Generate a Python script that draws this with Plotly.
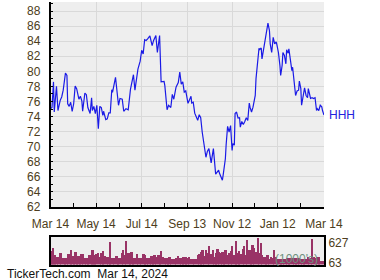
import pandas as pd
import plotly.graph_objects as go

# ---- data ----
start_date = "2023-03-14"
price_days = [0, 2, 4, 5, 8, 10, 13, 15, 17, 20, 22, 23, 25, 27, 29, 31, 33, 35, 38, 40,
              42, 43, 46, 48, 50, 53, 55, 56, 58, 60, 62, 64, 66, 68, 70, 71, 74, 76, 78, 80,
              82, 83, 87, 91, 93, 96, 98, 101, 104, 107, 111, 113, 117, 120, 122, 124, 126, 128, 130, 133,
              136, 138, 141, 143, 146, 148, 152, 153, 156, 158, 161, 163, 165, 168, 171, 173, 175, 177, 179, 181,
              184, 186, 188, 189, 191, 193, 195, 197, 199, 201, 203, 205, 206, 208, 210, 212, 215, 217, 218, 221,
              223, 225, 226, 228, 230, 231, 234, 235, 237, 239, 241, 243, 244, 246, 247, 249, 251, 253, 254, 256,
              258, 260, 262, 264, 266, 267, 269, 271, 274, 275, 277, 279, 280, 282, 283, 285, 287, 289, 291, 293,
              294, 296, 298, 300, 302, 303, 305, 307, 308, 310, 311, 313, 315, 316, 318, 319, 321, 323, 324, 326,
              328, 330, 332, 333, 335, 336, 338, 340, 342, 344, 345, 347, 348, 350, 352, 354, 356, 357, 359, 361,
              363, 364, 366]
price = [75.05, 75.2, 78.6, 74.6, 78.0, 74.8, 76.15, 76.6, 77.5, 79.76, 79.45, 75.7, 75.35, 75.9, 74.7, 75.7, 78.04, 77.7, 76.3, 76.7,
         76.05, 74.7, 77.1, 76.9, 75.2, 74.4, 76.5, 74.8, 75.35, 74.4, 75.5, 72.4, 75.35, 75.2, 74.15, 74.7, 73.6, 73.7, 74.5, 74.5,
         77.56, 77.2, 79.2, 75.5, 76.4, 76.3, 74.7, 75.05, 74.9, 77.6, 79.55, 77.5, 80.3, 81.35, 82.8, 82.3, 84.2, 84.1, 84.3, 84.7,
         83.4, 84.1, 84.75, 82.5, 84.75, 78.6, 78.65, 78.1, 74.9, 75.5, 75.2, 76.95, 76.3, 77.9, 78.5, 79.9, 78.3, 78.6, 77.25, 77.4,
         75.75, 76.3, 76.7, 75.8, 75.9, 74.45, 73.85, 73.5, 74.25, 73.85, 71.95, 70.4, 70.3, 68.6, 69.4, 69.75, 67.85, 69.3, 69.75, 66.35,
         66.6, 66.9, 66.5, 66.1, 65.55, 66.2, 68.4, 70.2, 72.7, 71.95, 72.8, 69.5, 70.4, 70.2, 74.4, 74.6, 73.8, 73.85, 72.6, 73.35,
         72.95, 73.35, 73.85, 73.5, 75.8, 75.25, 74.6, 75.25, 76.8, 79.0, 81.5, 83.07, 82.9, 83.1, 81.65, 82.86, 83.65, 84.98, 86.4, 85.4,
         83.65, 82.5, 84.5, 83.65, 83.9, 83.5, 82.5, 80.8, 79.45, 80.8, 82.5, 82.1, 81.0, 82.86, 82.4, 83.0, 81.45, 80.1, 80.55, 78.8,
         76.8, 77.4, 77.5, 78.7, 77.7, 75.5, 76.7, 77.8, 76.8, 76.5, 77.7, 77.0, 76.4, 76.5, 76.4, 76.5, 74.8, 75.05, 74.8, 75.5,
         75.3, 74.8, 74.2]

volume_days = [0, 2, 3, 5, 6, 8, 10, 12, 14, 17, 19, 21, 23, 26, 27, 29, 31, 33, 35, 37,
               39, 41, 43, 46, 48, 50, 52, 55, 56, 58, 59, 61, 63, 66, 68, 70, 72, 75, 77, 79,
               80, 83, 85, 88, 90, 92, 95, 97, 99, 101, 104, 106, 108, 110, 112, 115, 117, 119, 121, 124,
               126, 128, 130, 133, 135, 137, 139, 141, 144, 146, 148, 150, 153, 155, 157, 159, 161, 164, 166, 168,
               170, 173, 175, 177, 179, 181, 183, 185, 188, 190, 192, 194, 197, 199, 201, 203, 205, 208, 210, 212,
               214, 217, 219, 221, 223, 225, 228, 230, 232, 234, 237, 239, 241, 243, 246, 248, 250, 252, 254, 257,
               259, 261, 263, 266, 268, 270, 272, 275, 277, 279, 281, 283, 286, 288, 290, 292, 295, 297, 299, 301,
               303, 306, 308, 310, 312, 315, 317, 319, 321, 324, 326, 328, 330, 332, 335, 337, 339, 341, 344, 346,
               348, 350, 352, 355, 357, 359, 361, 364]
volume = [424, 424, 493, 296, 247, 247, 247, 345, 345, 217, 217, 217, 326, 326, 444, 266, 266, 375, 266, 266,
          266, 326, 326, 197, 197, 197, 296, 296, 444, 296, 266, 326, 365, 247, 345, 414, 266, 247, 247, 661,
          197, 197, 197, 276, 197, 197, 345, 444, 296, 691, 345, 296, 395, 197, 197, 326, 197, 197, 197, 326,
          296, 197, 197, 197, 266, 168, 286, 227, 296, 247, 424, 247, 197, 197, 197, 227, 168, 168, 168, 217,
          266, 197, 197, 227, 227, 227, 197, 247, 168, 168, 168, 168, 296, 326, 395, 444, 266, 444, 345, 543,
          326, 444, 247, 345, 464, 395, 345, 395, 326, 444, 296, 365, 424, 543, 296, 691, 345, 424, 326, 464,
          543, 296, 740, 444, 326, 592, 493, 395, 790, 345, 641, 296, 247, 197, 296, 168, 247, 197, 444, 247,
          168, 168, 168, 168, 168, 168, 197, 197, 197, 197, 197, 197, 197, 197, 168, 168, 168, 168, 247, 168,
          197, 760, 247, 197, 247, 247, 128, 128]

tick_dates = ["2023-03-14", "2023-05-14", "2023-07-14", "2023-09-13", "2023-11-12", "2024-01-12", "2024-03-14"]
tick_labels = ["Mar 14", "May 14", "Jul 14", "Sep 13", "Nov 12", "Jan 12", "Mar 14"]
minor_dates = ["2023-04-14", "2023-06-14", "2023-08-13", "2023-10-13", "2023-12-12", "2024-02-12"]
vol_ticks = [63, 627]
ticker = "HHH"
footer = "TickerTech.com&nbsp;&nbsp;Mar 14, 2024"

# ---- build ----
base = pd.Timestamp(start_date)
price_dates = base + pd.to_timedelta(price_days, unit="D")
vol_dates = base + pd.to_timedelta(volume_days, unit="D")

FONT = "Liberation Sans, Arial, sans-serif"
LABEL_COLOR = "#4d3d20"

fig = go.Figure()
fig.add_trace(go.Scatter(x=price_dates, y=price, mode="lines",
                         line=dict(color="#1a1ae6", width=1.2),
                         xaxis="x", yaxis="y", hoverinfo="skip"))
fig.add_trace(go.Bar(x=vol_dates, y=volume, marker=dict(color="#993366", line=dict(width=0)),
                     width=2.4 * 86400000, xaxis="x2", yaxis="y2", hoverinfo="skip"))

x_dom = [50.5 / 380, 324 / 380]
fig.update_layout(
    width=380, height=280,
    margin=dict(l=0, r=0, t=0, b=0),
    paper_bgcolor="white", plot_bgcolor="#eeeeee",
    showlegend=False, bargap=0,
    font=dict(family=FONT, size=12, color=LABEL_COLOR),
    xaxis=dict(domain=x_dom, type="date", range=[tick_dates[0], tick_dates[-1]],
               tickmode="array", tickvals=tick_dates, ticktext=tick_labels,
               tickangle=0, automargin=False,
               showgrid=True, gridcolor="#d9d9d9", gridwidth=1,
               ticks="inside", ticklen=4, tickcolor="black", tickwidth=1,
               showline=True, linecolor="black", linewidth=1.5,
               ticklabelstandoff=5,
               minor=dict(tickmode="array", tickvals=minor_dates, ticks="inside",
                          ticklen=4, tickcolor="black", showgrid=False),
               tickfont=dict(family=FONT, size=12, color=LABEL_COLOR),
               zeroline=False, anchor="y"),
    yaxis=dict(domain=[1 - 207 / 280, 1 - 2 / 280], range=[62, 89.2],
               tick0=62, dtick=2, showgrid=True, gridcolor="#d9d9d9", gridwidth=1,
               ticks="inside", ticklen=3, tickcolor="black", automargin=False,
               showline=True, linecolor="black", linewidth=1.5,
               ticklabelstandoff=6,
               minor=dict(dtick=1, tick0=62, ticks="inside", ticklen=3, tickcolor="black",
                          showgrid=False),
               tickfont=dict(family=FONT, size=12, color=LABEL_COLOR),
               zeroline=False, anchor="x"),
    xaxis2=dict(domain=x_dom, type="date", range=[tick_dates[0], tick_dates[-1]],
                showticklabels=False, showgrid=False, ticks="", automargin=False,
                showline=True, mirror=True, linecolor="black", linewidth=2,
                zeroline=False, anchor="y2"),
    yaxis2=dict(domain=[1 - 264.5 / 280, 1 - 236.5 / 280], range=[0, 820], side="right",
                tickmode="array", tickvals=vol_ticks, ticktext=[str(v) for v in vol_ticks],
                showgrid=False, ticks="", showline=True, mirror=True, automargin=False,
                linecolor="black", linewidth=2, zeroline=False,
                tickfont=dict(family=FONT, size=12, color=LABEL_COLOR), anchor="x2"),
)

fig.add_annotation(x=327 / 380, xref="paper", y=price[-1], yref="y", text=ticker,
                   showarrow=False, xanchor="left", yanchor="middle",
                   font=dict(family=FONT, size=12, color="#2222dd"))
fig.add_annotation(x=320 / 380, xref="paper", y=1 - 259 / 280, yref="paper", text="(1000's)",
                   showarrow=False, xanchor="right", yanchor="middle",
                   font=dict(family=FONT, size=12, color="#6f9080"))
fig.add_annotation(x=5 / 380, xref="paper", y=1 - 274.3 / 280, yref="paper", text=footer,
                   showarrow=False, xanchor="left", yanchor="middle",
                   font=dict(family=FONT, size=12, color="#111111"))

fig.write_html("out.html")
